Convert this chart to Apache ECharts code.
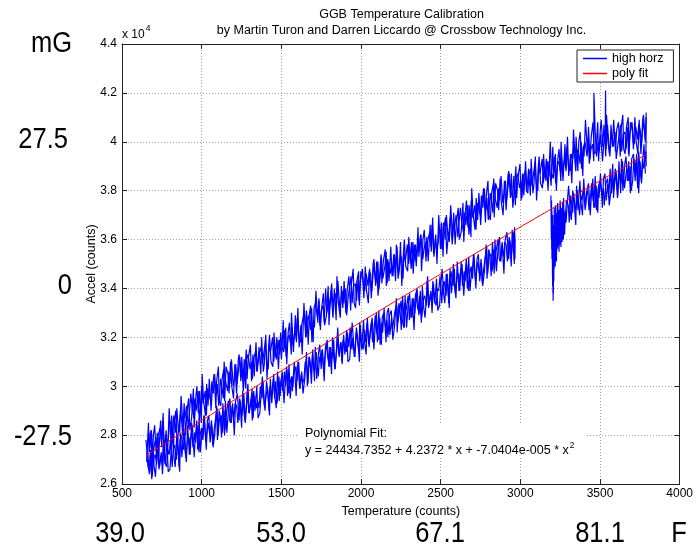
<!DOCTYPE html>
<html>
<head>
<meta charset="utf-8">
<script src="https://cdn.jsdelivr.net/npm/echarts@6/dist/echarts.min.js"></script>
<style>
  html, body { margin: 0; padding: 0; background: #fff; }
  #chart { width: 696px; height: 551px; }
</style>
</head>
<body>
<div id="chart"></div>
<script>
// Trace samples: [temperature (counts), accel (hundreds of counts)].
// Upper branch of the hysteresis loop, two passes.
const upperPassA = [
  [650,278],[658,273],[669,281],[675,275],[684,282],[696,272],[703,276],[713,279],[718,273],[727,280],[740,283],[748,277],[754,286],[764,274],[775,280],[782,276],
  [791,279],[799,286],[810,284],[816,277],[825,288],[837,281],[844,291],[854,282],[859,284],[868,291],[881,280],[889,289],[895,287],[905,292],[916,283],[923,289],
  [932,297],[940,291],[951,287],[957,295],[966,290],[978,298],[985,286],[995,293],[1000,300],[1009,293],[1022,298],[1030,288],[1036,299],[1046,297],[1057,294],[1064,302],
  [1073,297],[1081,305],[1092,296],[1098,301],[1107,292],[1119,303],[1126,300],[1136,295],[1141,310],[1150,302],[1163,298],[1171,306],[1177,301],[1187,311],[1198,300],[1205,303],
  [1214,309],[1222,301],[1233,308],[1239,312],[1248,305],[1260,302],[1267,311],[1277,299],[1282,311],[1291,313],[1304,307],[1312,310],[1318,303],[1328,312],[1339,314],[1346,306],
  [1355,306],[1363,314],[1374,316],[1380,309],[1389,313],[1401,319],[1408,310],[1418,307],[1423,317],[1432,314],[1445,320],[1453,310],[1459,316],[1469,311],[1480,319],[1487,313],
  [1496,322],[1504,316],[1515,314],[1521,323],[1530,312],[1542,320],[1549,321],[1559,317],[1564,330],[1573,317],[1586,323],[1594,319],[1600,328],[1610,320],[1621,318],[1628,325],
  [1637,325],[1645,331],[1656,320],[1662,327],[1671,329],[1683,323],[1690,332],[1700,318],[1705,332],[1714,334],[1727,328],[1735,335],[1741,325],[1751,331],[1762,333],[1769,326],
  [1778,340],[1786,330],[1797,336],[1803,332],[1812,339],[1824,328],[1831,335],[1841,338],[1846,333],[1855,343],[1868,331],[1876,336],[1882,339],[1892,334],[1903,340],[1910,329],
  [1919,336],[1927,340],[1938,345],[1944,334],[1953,341],[1965,342],[1972,335],[1982,344],[1987,335],[1996,343],[2009,348],[2017,340],[2023,339],[2033,346],[2044,341],[2051,347],
  [2060,346],[2068,339],[2079,349],[2085,347],[2094,342],[2106,351],[2113,340],[2123,347],[2128,353],[2137,344],[2150,349],[2158,355],[2164,342],[2174,351],[2185,346],[2192,349],
  [2201,345],[2209,354],[2220,349],[2226,357],[2235,346],[2247,351],[2254,353],[2264,344],[2269,355],[2278,351],[2291,358],[2299,350],[2305,357],[2315,348],[2326,359],[2333,351],
  [2342,358],[2350,353],[2361,361],[2367,355],[2376,362],[2388,352],[2395,356],[2405,359],[2410,353],[2419,360],[2432,363],[2440,357],[2446,366],[2456,354],[2467,360],[2474,356],
  [2483,358],[2491,365],[2502,363],[2508,356],[2517,367],[2529,360],[2536,370],[2546,361],[2551,362],[2560,369],[2573,358],[2581,367],[2587,365],[2597,370],[2608,361],[2615,367],
  [2624,373],[2632,367],[2643,363],[2649,371],[2658,366],[2670,374],[2677,362],[2687,369],[2692,376],[2701,369],[2714,374],[2722,364],[2728,375],[2738,373],[2749,370],[2756,378],
  [2765,373],[2773,381],[2784,372],[2790,377],[2799,368],[2811,379],[2818,376],[2828,371],[2833,385],[2842,377],[2855,373],[2863,381],[2869,376],[2879,386],[2890,375],[2897,378],
  [2906,384],[2914,376],[2925,383],[2931,387],[2940,380],[2952,377],[2959,386],[2969,374],[2974,385],[2983,387],[2996,381],[3004,384],[3010,377],[3020,386],[3031,388],[3038,380],
  [3047,379],[3055,387],[3066,389],[3072,382],[3081,386],[3093,392],[3100,383],[3110,380],[3115,390],[3124,387],[3137,393],[3145,383],[3151,389],[3161,384],[3172,392],[3179,386],
  [3188,400],[3196,387],[3207,385],[3213,394],[3222,383],[3234,391],[3241,392],[3251,388],[3256,400],[3265,387],[3278,393],[3286,389],[3292,398],[3302,390],[3313,388],[3320,395],
  [3329,393],[3337,399],[3348,388],[3354,395],[3363,397],[3375,391],[3382,400],[3392,386],[3397,398],[3406,400],[3419,394],[3427,401],[3433,391],[3443,397],[3454,399],[3461,392],[3462,420],
  [3470,404],[3478,394],[3489,400],[3495,396],[3504,403],[3516,392],[3523,399],[3533,402],[3535,421],[3538,397],[3547,407],[3560,395],[3568,400],[3574,403],[3584,398],[3595,404],[3602,393],
  [3611,398],[3619,402],[3630,407],[3636,396],[3645,403],[3657,404],[3664,397],[3674,406],[3679,395],[3688,403],[3701,408],[3709,400],[3715,399],[3725,406],[3736,401],[3743,407],
  [3752,405],[3760,398],[3771,408],[3777,406],[3786,401],[3790,410],[3788,393]
];
const upperPassB = [
  [655,269],[666,285],[671,273],[682,282],[688,267],[697,280],[705,284],[716,271],[721,281],[730,271],[742,286],[749,275],[758,289],[766,273],[777,282],[785,270],
  [796,291],[807,277],[812,288],[823,274],[829,286],[838,290],[846,275],[857,284],[862,281],[871,296],[883,283],[890,293],[899,280],[907,289],[918,295],[926,282],
  [937,287],[948,299],[953,283],[964,296],[970,300],[979,289],[987,298],[998,285],[1003,305],[1012,294],[1024,288],[1031,301],[1040,292],[1048,303],[1059,290],[1067,299],
  [1078,305],[1089,291],[1094,302],[1105,308],[1111,294],[1120,292],[1128,303],[1139,307],[1144,294],[1153,308],[1165,305],[1172,297],[1181,310],[1189,300],[1200,295],[1208,309],
  [1219,297],[1230,311],[1235,313],[1246,302],[1252,312],[1261,298],[1269,304],[1280,315],[1285,303],[1294,312],[1306,317],[1313,302],[1322,313],[1330,304],[1341,318],[1349,306],
  [1360,316],[1371,305],[1376,320],[1387,306],[1393,309],[1402,321],[1410,303],[1421,317],[1426,321],[1435,310],[1447,308],[1454,322],[1463,312],[1471,320],[1482,307],[1490,319],
  [1501,311],[1512,327],[1517,315],[1528,324],[1534,309],[1543,322],[1551,326],[1562,313],[1567,324],[1576,314],[1588,329],[1595,318],[1604,332],[1612,316],[1623,325],[1631,313],
  [1642,334],[1653,320],[1658,331],[1669,317],[1675,329],[1684,333],[1692,318],[1703,327],[1708,324],[1717,339],[1729,326],[1736,336],[1745,323],[1753,332],[1764,338],[1772,325],
  [1783,329],[1794,341],[1799,325],[1810,338],[1816,342],[1825,331],[1833,340],[1844,327],[1849,345],[1858,334],[1870,328],[1877,341],[1886,332],[1894,343],[1905,330],[1913,339],
  [1924,345],[1935,331],[1940,342],[1951,348],[1957,334],[1966,332],[1974,343],[1985,347],[1990,333],[1999,347],[2011,344],[2018,336],[2027,349],[2035,339],[2046,334],[2054,348],
  [2065,336],[2076,350],[2081,352],[2092,341],[2098,351],[2107,337],[2115,343],[2126,354],[2131,342],[2140,351],[2152,356],[2159,341],[2168,352],[2176,343],[2187,357],[2195,345],
  [2206,354],[2217,343],[2222,358],[2233,344],[2239,347],[2248,359],[2256,341],[2267,355],[2272,360],[2281,349],[2293,347],[2300,361],[2309,351],[2317,359],[2328,346],[2336,358],
  [2347,349],[2358,365],[2363,353],[2374,362],[2380,347],[2389,360],[2397,364],[2408,351],[2413,361],[2422,351],[2434,366],[2441,355],[2450,369],[2458,353],[2469,362],[2477,350],
  [2488,370],[2499,356],[2504,367],[2515,353],[2521,365],[2530,369],[2538,354],[2549,363],[2554,359],[2563,374],[2575,361],[2582,371],[2591,358],[2599,367],[2610,373],[2618,360],
  [2629,363],[2640,375],[2645,359],[2656,372],[2662,376],[2671,365],[2679,374],[2690,361],[2695,381],[2704,370],[2716,364],[2723,377],[2732,368],[2740,379],[2751,366],[2759,375],
  [2770,381],[2781,367],[2786,378],[2797,384],[2803,370],[2812,368],[2820,379],[2831,383],[2836,369],[2845,383],[2857,380],[2864,372],[2873,385],[2881,375],[2892,370],[2900,384],
  [2911,372],[2922,386],[2927,388],[2938,377],[2944,387],[2953,373],[2961,379],[2972,390],[2977,377],[2986,386],[2998,391],[3005,376],[3014,387],[3022,378],[3033,392],[3041,380],
  [3052,389],[3063,378],[3068,393],[3079,379],[3085,382],[3094,394],[3102,376],[3113,390],[3118,394],[3127,383],[3139,381],[3146,395],[3155,385],[3163,393],[3174,380],[3182,392],
  [3193,382],[3204,398],[3209,386],[3220,395],[3226,380],[3235,393],[3243,397],[3254,384],[3259,394],[3268,384],[3280,399],[3287,388],[3296,402],[3304,386],[3315,395],[3323,383],
  [3334,405],[3345,391],[3350,402],[3361,388],[3367,400],[3376,404],[3384,389],[3395,398],[3400,394],[3409,409],[3421,396],[3428,406],[3437,393],[3445,402],[3456,408],[3464,395],
  [3475,396],[3486,408],[3491,392],[3502,405],[3508,409],[3517,398],[3525,407],[3536,394],[3541,411],[3550,400],[3562,394],[3569,407],[3578,398],[3586,409],[3597,396],[3605,405],
  [3616,408],[3627,394],[3632,405],[3643,411],[3649,397],[3658,395],[3666,406],[3677,410],[3682,394],[3691,408],[3703,405],[3710,397],[3719,410],[3727,400],[3738,395],[3746,409],
  [3757,395],[3768,409],[3773,411],[3784,400],[3790,412]
];

// Lower branch up to the break just below 3000 counts, two passes.
const lowerPassA = [
  [655,273],[663,267],[674,265],[680,274],[689,263],[701,271],[708,272],[718,268],[723,277],[732,266],[745,272],[753,268],[759,277],[769,269],[780,267],[787,274],
  [796,272],[804,278],[815,267],[821,274],[830,276],[842,270],[849,279],[859,267],[864,278],[873,280],[886,274],[894,281],[900,271],[910,277],[921,279],[928,272],
  [937,285],[945,275],[956,281],[962,277],[971,284],[983,273],[990,280],[1000,283],[1005,279],[1014,288],[1027,277],[1035,282],[1041,285],[1051,280],[1062,286],[1069,276],
  [1078,282],[1086,286],[1097,291],[1103,280],[1112,287],[1124,288],[1131,281],[1141,290],[1146,282],[1155,289],[1168,294],[1176,286],[1182,285],[1192,292],[1203,287],[1210,293],
  [1219,292],[1227,285],[1238,295],[1244,293],[1253,288],[1265,297],[1272,286],[1282,293],[1287,298],[1296,289],[1309,294],[1317,299],[1323,287],[1333,296],[1344,291],[1351,294],
  [1360,291],[1368,300],[1379,295],[1385,302],[1394,292],[1406,297],[1413,299],[1423,290],[1428,300],[1437,296],[1450,303],[1458,295],[1464,302],[1474,293],[1485,304],[1492,296],
  [1501,303],[1509,298],[1520,306],[1526,300],[1535,307],[1547,297],[1554,301],[1564,304],[1569,298],[1578,305],[1591,308],[1599,302],[1605,310],[1615,299],[1626,305],[1633,301],
  [1642,303],[1650,310],[1661,308],[1667,301],[1676,312],[1688,305],[1695,313],[1705,306],[1710,307],[1719,314],[1732,304],[1740,312],[1746,310],[1756,315],[1767,306],[1774,312],
  [1783,318],[1791,312],[1802,308],[1808,316],[1817,311],[1829,319],[1836,307],[1846,314],[1851,320],[1860,313],[1873,318],[1881,310],[1887,319],[1897,317],[1908,314],[1915,322],
  [1924,316],[1932,324],[1943,315],[1949,320],[1958,312],[1970,322],[1977,319],[1987,314],[1992,326],[2001,319],[2014,315],[2022,323],[2028,318],[2038,326],[2049,317],[2056,320],
  [2065,326],[2073,318],[2084,325],[2090,329],[2099,322],[2111,319],[2118,328],[2128,317],[2133,328],[2142,330],[2155,324],[2163,327],[2169,320],[2179,329],[2190,331],[2197,323],
  [2206,323],[2214,331],[2225,333],[2231,326],[2240,330],[2252,335],[2259,327],[2269,324],[2274,334],[2283,331],[2296,337],[2304,327],[2310,333],[2320,328],[2331,336],[2338,330],
  [2347,338],[2355,332],[2366,330],[2372,339],[2381,328],[2393,336],[2400,337],[2410,333],[2415,343],[2424,332],[2437,338],[2445,334],[2451,343],[2461,335],[2472,333],[2479,340],
  [2488,339],[2496,345],[2507,334],[2513,341],[2522,343],[2534,337],[2541,346],[2551,334],[2556,345],[2565,347],[2578,341],[2586,348],[2592,338],[2602,344],[2613,346],[2620,339],
  [2629,351],[2637,341],[2648,347],[2654,343],[2663,350],[2675,339],[2682,346],[2692,349],[2697,345],[2706,354],[2719,343],[2727,348],[2733,351],[2743,346],[2754,352],[2761,342],
  [2770,348],[2778,352],[2789,357],[2795,346],[2804,353],[2816,354],[2823,347],[2833,356],[2838,348],[2847,355],[2860,360],[2868,352],[2874,351],[2884,358],[2895,353],[2902,359],
  [2911,358],[2919,351],[2930,361],[2936,359],[2945,354],[2957,363],[2962,350],[2964,365],[2966,352],[2967,360]
];
const lowerPassB = [
  [660,275],[671,264],[676,272],[687,262],[693,276],[702,267],[710,263],[721,274],[726,279],[735,267],[747,273],[754,264],[763,276],[771,268],[782,278],[790,265],
  [801,266],[812,277],[817,281],[828,270],[834,267],[843,279],[851,275],[862,265],[867,281],[876,271],[888,283],[895,274],[904,269],[912,284],[923,272],[931,279],
  [942,284],[953,271],[958,277],[969,286],[975,274],[984,287],[992,273],[1003,282],[1008,278],[1017,288],[1029,274],[1036,286],[1045,288],[1053,277],[1064,284],[1072,275],
  [1083,281],[1094,292],[1099,278],[1110,290],[1116,288],[1125,279],[1133,293],[1144,280],[1149,294],[1158,281],[1170,292],[1177,295],[1186,285],[1194,293],[1205,280],[1213,294],
  [1224,297],[1235,286],[1240,294],[1251,283],[1257,298],[1266,289],[1274,285],[1285,296],[1290,301],[1299,289],[1311,295],[1318,286],[1327,298],[1335,290],[1346,300],[1354,287],
  [1365,289],[1376,300],[1381,304],[1392,293],[1398,290],[1407,302],[1415,298],[1426,288],[1431,303],[1440,293],[1452,305],[1459,296],[1468,291],[1476,306],[1487,294],[1495,301],
  [1506,306],[1517,293],[1522,299],[1533,308],[1539,296],[1548,309],[1556,295],[1567,304],[1572,300],[1581,310],[1593,296],[1600,308],[1609,310],[1617,299],[1628,306],[1636,297],
  [1647,303],[1658,314],[1663,300],[1674,312],[1680,310],[1689,301],[1697,315],[1708,302],[1713,316],[1722,303],[1734,314],[1741,317],[1750,307],[1758,315],[1769,302],[1777,316],
  [1788,319],[1799,308],[1804,316],[1815,305],[1821,320],[1830,311],[1838,307],[1849,318],[1854,324],[1863,312],[1875,318],[1882,309],[1891,321],[1899,313],[1910,323],[1918,310],
  [1929,311],[1940,322],[1945,326],[1956,315],[1962,312],[1971,324],[1979,320],[1990,310],[1995,325],[2004,315],[2016,327],[2023,318],[2032,313],[2040,328],[2051,316],[2059,323],
  [2070,328],[2081,315],[2086,321],[2097,330],[2103,318],[2112,331],[2120,317],[2131,326],[2136,322],[2145,332],[2157,318],[2164,330],[2173,332],[2181,321],[2192,328],[2200,319],
  [2211,325],[2222,336],[2227,322],[2238,334],[2244,332],[2253,323],[2261,337],[2272,324],[2277,337],[2286,324],[2298,335],[2305,338],[2314,328],[2322,336],[2333,323],[2341,337],
  [2352,340],[2363,329],[2368,337],[2379,326],[2385,341],[2394,332],[2402,328],[2413,339],[2418,345],[2427,333],[2439,339],[2446,330],[2455,342],[2463,334],[2474,344],[2482,331],
  [2493,333],[2504,344],[2509,348],[2520,337],[2526,334],[2535,346],[2543,342],[2554,332],[2559,348],[2568,338],[2580,350],[2587,341],[2596,336],[2604,351],[2615,339],[2623,346],
  [2634,350],[2645,337],[2650,343],[2661,352],[2667,340],[2676,353],[2684,339],[2695,348],[2700,344],[2709,354],[2721,340],[2728,352],[2737,354],[2745,343],[2756,350],[2764,341],
  [2775,347],[2786,358],[2791,344],[2802,356],[2808,354],[2817,345],[2825,359],[2836,346],[2841,360],[2850,347],[2862,358],[2869,361],[2878,351],[2886,359],[2897,346],[2905,360],
  [2916,363],[2927,352],[2932,360],[2943,349],[2949,364],[2958,355],[2963,351],[2965,362]
];

// Step near 3200 counts, then the rest of the lower branch, two passes.
const tailPassA = [
  [3192,378],[3195,360],[3197,372],[3199,352],[3200,368],[3202,345],[3204,366],[3206,335],[3208,360],[3210,343],
  [3212,370],[3214,352],[3216,366],[3219,356],[3222,374],[3225,358],[3228,370],[3231,360],[3234,375],[3238,362],
  [3242,372],[3246,361],[3250,376],[3255,363],[3260,373],[3266,362],[3271,377],[3276,365],
  [3282,369],[3290,376],[3301,374],[3307,367],[3316,378],[3328,371],[3335,379],[3345,372],[3350,373],[3359,380],[3372,370],[3380,378],[3386,376],[3396,381],[3407,372],[3414,378],
  [3423,380],[3431,372],[3442,379],[3448,383],[3457,376],[3469,373],[3476,382],[3486,371],[3491,382],[3500,384],[3513,378],[3521,381],[3527,374],[3537,383],[3548,385],[3555,377],
  [3564,389],[3572,379],[3583,385],[3589,381],[3598,388],[3610,377],[3617,384],[3627,387],[3632,383],[3641,392],[3654,381],[3662,386],[3668,389],[3678,384],[3689,390],[3696,380],
  [3705,384],[3713,393],[3724,388],[3730,395],[3739,385],[3743,379],[3751,392],[3761,383],[3766,393],[3775,389],[3788,396],[3790,390]
];
const tailPassB = [
  [3196,376],[3198,356],[3201,370],[3203,341],[3205,364],[3207,338],[3209,362],[3211,348],[3213,373],[3215,352],
  [3217,366],[3219,349],[3221,370],[3223,354],[3225,366],[3227,351],[3229,371],[3232,356],[3235,374],[3237,357],
  [3240,371],[3243,355],[3246,369],[3249,358],[3252,374],[3255,357],[3258,370],[3262,359],[3266,375],[3270,360],
  [3274,371],[3278,362],[3282,372],
  [3287,367],[3298,378],[3303,382],[3314,371],[3320,368],[3329,380],[3337,376],[3348,366],[3353,382],[3362,372],[3374,384],[3381,375],[3390,370],[3398,385],[3409,373],[3417,380],
  [3428,383],[3439,370],[3444,376],[3455,385],[3461,373],[3470,386],[3478,372],[3489,381],[3494,377],[3503,387],[3515,373],[3522,385],[3531,387],[3539,376],[3550,383],[3558,374],
  [3569,380],[3580,391],[3585,377],[3596,389],[3602,387],[3611,378],[3619,392],[3630,379],[3635,393],[3644,380],[3656,391],[3663,394],[3672,384],[3680,392],[3691,379],[3699,393],
  [3710,395],[3721,384],[3726,392],[3737,381],[3743,396],[3752,388],[3760,384],[3771,395],[3776,399],[3785,387]
];

// Quadratic fit, sampled along the temperature range (units of 10^4 counts).
const fitTemp  = [650, 900, 1150, 1400, 1650, 1900, 2150, 2400, 2650, 2900, 3150, 3400, 3650, 3790];
const fitAccel = [2.7159, 2.8191, 2.9214, 3.0229, 3.1234, 3.2231, 3.3219, 3.4198, 3.5169, 3.6131, 3.7083, 3.8027, 3.8963, 3.9482];

const xTicks = { min: 500, max: 4000, step: 500 };
const yTicks = { min: 2.6, max: 4.4, step: 0.2 };

// Secondary scales printed beside the axes.
const mgLabels = [
  { text: 'mG',    x: 72, y: 44 },
  { text: '27.5',  x: 68, y: 140 },
  { text: '0',     x: 72, y: 286 },
  { text: '-27.5', x: 72, y: 437 }
];
const fahrenheitLabels = [
  { text: '39.0', x: 120 },
  { text: '53.0', x: 281 },
  { text: '67.1', x: 440 },
  { text: '81.1', x: 600 },
  { text: 'F',    x: 679 }
];

const FONT = '"Liberation Sans", Arial, Helvetica, sans-serif';
const equation = 'y = 24434.7352 + 4.2372 * x + -7.0404e-005 * x';

function measure(text, size) {
  const ctx = document.createElement('canvas').getContext('2d');
  ctx.font = size + 'px ' + FONT;
  return ctx.measureText(text).width;
}

// hundreds of counts -> units of 10^4 counts
function toAxis(rows) {
  return rows.map(function (r) { return [r[0], r[1] / 100]; });
}

const chart = echarts.init(document.getElementById('chart'), null, { renderer: 'canvas' });

function traceSeries(rows) {
  return {
    name: 'high horz', type: 'line', data: toAxis(rows),
    symbol: 'none', showSymbol: false, silent: true,
    lineStyle: { color: '#0000ff', width: 1.2 },
    itemStyle: { color: '#0000ff' },
    z: 2
  };
}

const axisLineStyle = { color: '#222', width: 1 };
const gridStyle = { color: '#a0a0a0', width: 1, type: [1, 2] };

const eqX = 305;
const eqW = measure(equation, 12.5);

const graphics = [
  { type: 'text', x: 401.5, y: 15, style: { text: 'GGB Temperature Calibration', fontSize: 12.5, fontFamily: FONT, fill: '#000', align: 'center', verticalAlign: 'middle' } },
  { type: 'text', x: 401.5, y: 31, style: { text: 'by Martin Turon and Darren Liccardo @ Crossbow Technology Inc.', fontSize: 12.5, fontFamily: FONT, fill: '#000', align: 'center', verticalAlign: 'middle' } },
  { type: 'text', x: 122, y: 35, style: { text: 'x 10', fontSize: 12, fontFamily: FONT, fill: '#000', align: 'left', verticalAlign: 'middle' } },
  { type: 'text', x: 122 + measure('x 10', 12) + 1, y: 29, style: { text: '4', fontSize: 8.5, fontFamily: FONT, fill: '#000', align: 'left', verticalAlign: 'middle' } },
  { type: 'rect', shape: { x: 297, y: 423, width: 288, height: 35 }, style: { fill: '#fff' }, z: 50 },
  { type: 'text', x: eqX, y: 434, z: 51, style: { text: 'Polynomial Fit:', fontSize: 12.5, fontFamily: FONT, fill: '#000', align: 'left', verticalAlign: 'middle' } },
  { type: 'text', x: eqX, y: 451, z: 51, style: { text: equation, fontSize: 12.5, fontFamily: FONT, fill: '#000', align: 'left', verticalAlign: 'middle' } },
  { type: 'text', x: eqX + eqW + 1, y: 446, z: 51, style: { text: '2', fontSize: 8.5, fontFamily: FONT, fill: '#000', align: 'left', verticalAlign: 'middle' } }
];
mgLabels.forEach(function (l) {
  graphics.push({ type: 'text', x: l.x, y: l.y, scaleX: 0.85, style: { x: 0, y: 0, text: l.text, fontSize: 30, fontFamily: FONT, fill: '#000', align: 'right', verticalAlign: 'middle' } });
});
fahrenheitLabels.forEach(function (l) {
  graphics.push({ type: 'text', x: l.x, y: 534, scaleX: 0.85, style: { x: 0, y: 0, text: l.text, fontSize: 30, fontFamily: FONT, fill: '#000', align: 'center', verticalAlign: 'middle' } });
});

const option = {
  animation: false,
  backgroundColor: '#fff',
  textStyle: { fontFamily: FONT },
  grid: { left: 122, right: 15, top: 44, bottom: 67, show: false },
  legend: {
    data: ['high horz', 'poly fit'],
    orient: 'vertical', left: 577, top: 50,
    icon: 'rect', itemWidth: 24, itemHeight: 1.5, itemGap: 2,
    padding: [2, 10, 2, 6],
    backgroundColor: '#fff', borderColor: '#222', borderWidth: 1, borderRadius: 0,
    textStyle: { fontSize: 12.5, color: '#000', fontFamily: FONT },
    selectedMode: false
  },
  xAxis: [
    {
      type: 'value', min: xTicks.min, max: xTicks.max, interval: xTicks.step, position: 'bottom',
      axisLine: { show: true, onZero: false, lineStyle: axisLineStyle },
      axisTick: { show: true, inside: true, length: 5, lineStyle: axisLineStyle },
      axisLabel: { color: '#000', fontSize: 12, margin: 4, fontFamily: FONT,
        formatter: function (v) { return String(v); } },
      splitLine: { show: true, lineStyle: gridStyle },
      name: 'Temperature (counts)', nameLocation: 'middle', nameGap: 19,
      nameTextStyle: { fontSize: 12.5, color: '#000', fontFamily: FONT }
    },
    {
      type: 'value', min: xTicks.min, max: xTicks.max, interval: xTicks.step, position: 'top',
      axisLine: { show: true, onZero: false, lineStyle: axisLineStyle },
      axisTick: { show: true, inside: true, length: 5, lineStyle: axisLineStyle },
      axisLabel: { show: false }, splitLine: { show: false }
    }
  ],
  yAxis: [
    {
      type: 'value', min: yTicks.min, max: yTicks.max, interval: yTicks.step, position: 'left',
      axisLine: { show: true, onZero: false, lineStyle: axisLineStyle },
      axisTick: { show: true, inside: true, length: 5, lineStyle: axisLineStyle },
      axisLabel: { color: '#000', fontSize: 12, margin: 5, fontFamily: FONT,
        formatter: function (v) { return String(Math.round(v * 10) / 10); } },
      splitLine: { show: true, lineStyle: gridStyle },
      name: 'Accel (counts)', nameLocation: 'middle', nameGap: 24, nameRotate: 90,
      nameMoveOverlap: false,
      nameTextStyle: { fontSize: 12.5, color: '#000', fontFamily: FONT }
    },
    {
      type: 'value', min: yTicks.min, max: yTicks.max, interval: yTicks.step, position: 'right',
      axisLine: { show: true, onZero: false, lineStyle: axisLineStyle },
      axisTick: { show: true, inside: true, length: 5, lineStyle: axisLineStyle },
      axisLabel: { show: false }, splitLine: { show: false }
    }
  ],
  series: [
    traceSeries(upperPassA),
    traceSeries(upperPassB),
    traceSeries(lowerPassA),
    traceSeries(lowerPassB),
    traceSeries(tailPassA),
    traceSeries(tailPassB),
    {
      name: 'poly fit', type: 'line',
      data: fitTemp.map(function (t, i) { return [t, fitAccel[i]]; }),
      symbol: 'none', showSymbol: false, silent: true,
      lineStyle: { color: '#ff0000', width: 1 },
      itemStyle: { color: '#ff0000' },
      z: 3
    }
  ],
  graphic: graphics
};

chart.setOption(option);
</script>
</body>
</html>
